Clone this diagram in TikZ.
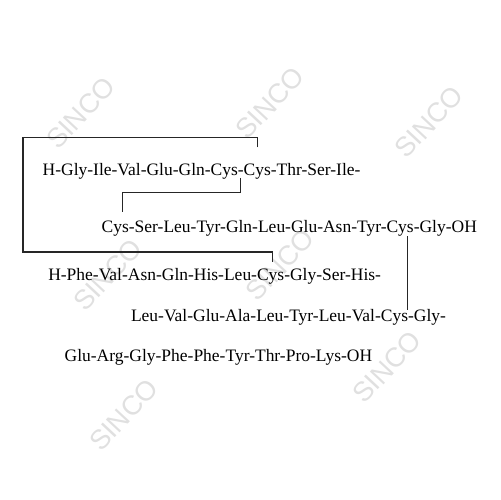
\documentclass[tikz,border=0pt]{standalone}
\usepackage{fontspec}
\setmainfont{Liberation Serif}
\newfontfamily\wmfont{Liberation Sans}
\usetikzlibrary{calc}
\begin{document}
\begin{tikzpicture}[x=0.02cm,y=-0.02cm,
  seq/.style={inner sep=0pt, outer sep=0pt, anchor=base west, font=\fontsize{9.95}{12}\selectfont},
  bond/.style={line width=0.6pt, black!85},
  wm/.style={font=\wmfont\fontsize{15.5}{18}\selectfont, text=black!12, rotate=47, inner sep=0pt}]
\useasboundingbox (0,0) rectangle (500,500);
% watermarks
\node[wm] (w1) at (81,113) {SINCO};
\node[wm] (w2) at (270,103) {SINCO};
\node[wm] (w3) at (429,122) {SINCO};
\node[wm] (w4) at (108,275) {SINCO};
\node[wm] (w5) at (280,265) {SINCO};
\node[wm] (w6) at (124,415) {SINCO};
\node[wm] (w7) at (387,367) {SINCO};
% chain A
\node[seq] (n1a) at (42.7,175) {H-Gly-Ile-Val-Glu-Gln-};
\node[seq] (a6) at (n1a.base east) {Cys};
\node[seq] (n1b) at (a6.base east) {-};
\node[seq] (a7) at (n1b.base east) {Cys};
\node[seq] (n1c) at (a7.base east) {-Thr-Ser-Ile-};
\node[seq] (a11) at (101.7,232.7) {Cys};
\node[seq] (n2a) at (a11.base east) {-Ser-Leu-Tyr-Gln-Leu-Glu-Asn-Tyr-};
\node[seq] (a20) at (n2a.base east) {Cys};
\node[seq] (n2b) at (a20.base east) {-Gly-OH};
% chain B
\node[seq] (n3a) at (48.3,280) {H-Phe-Val-Asn-Gln-His-Leu-};
\node[seq] (b7) at (n3a.base east) {Cys};
\node[seq] (n3b) at (b7.base east) {-Gly-Ser-His-};
\node[seq] (n4a) at (131,321.7) {Leu-Val-Glu-Ala-Leu-Tyr-Leu-Val-};
\node[seq] (b19) at (n4a.base east) {Cys};
\node[seq] (n4b) at (b19.base east) {-Gly-};
\node[seq] (n5) at (64.7,361.7) {Glu-Arg-Gly-Phe-Phe-Tyr-Thr-Pro-Lys-OH};
% disulfide bonds
\draw[bond] ($(a6.south east)+(3,-1)$) -- ++(0,15) -| ($(a11.north)+(7,-9)$);
\coordinate (c1) at (23,252);
\draw[bond] ($(a7.north)+(0,-16)$) -- ++(0,-10) -| (c1) -| ($(b7.north)+(2,-6)$);
\coordinate (p) at ($(a20.south east)+(-6,0)$);
\draw[bond] (p) -- (p |- b19.north);
\end{tikzpicture}
\end{document}
